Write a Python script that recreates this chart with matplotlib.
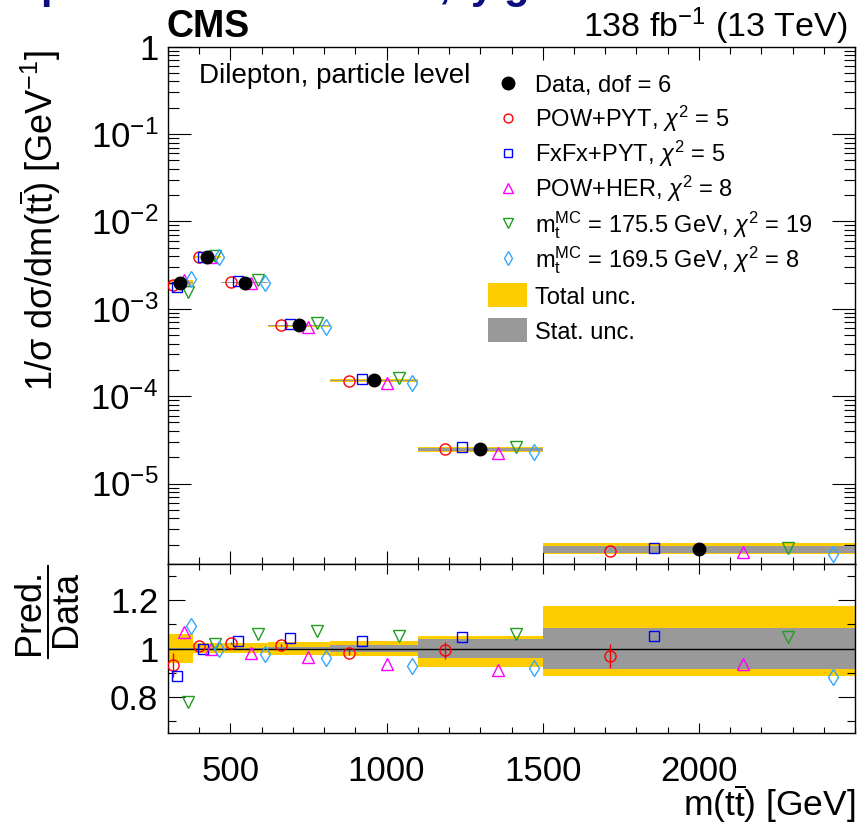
import math
import matplotlib
matplotlib.use("Agg")
import matplotlib.pyplot as plt
from matplotlib.lines import Line2D
from matplotlib.patches import Rectangle
from matplotlib.ticker import (LogLocator, FuncFormatter, MultipleLocator,
                               FixedLocator, NullFormatter)

plt.rcParams["font.family"] = ["Liberation Sans", "DejaVu Sans"]
plt.rcParams["mathtext.fontset"] = "custom"
plt.rcParams["mathtext.rm"] = "Liberation Sans"
plt.rcParams["mathtext.it"] = "Liberation Sans:italic"
plt.rcParams["mathtext.bf"] = "Liberation Sans:bold"
plt.rcParams["mathtext.sf"] = "Liberation Sans"

# ---- data ------------------------------------------------------------------
BIN_EDGES = [300, 380, 470, 620, 820, 1100, 1500, 2500]
DATA = [2.0e-3, 3.9e-3, 2.0e-3, 6.45e-4, 1.52e-4, 2.48e-5, 1.76e-6]
# relative uncertainties of the data
TOT_UP = [0.060, 0.021, 0.021, 0.025, 0.032, 0.052, 0.174]
TOT_DN = [0.062, 0.018, 0.018, 0.028, 0.032, 0.076, 0.113]
STAT_UP = [0.004, 0.003, 0.003, 0.005, 0.016, 0.039, 0.084]
STAT_DN = [0.004, 0.003, 0.003, 0.005, 0.016, 0.040, 0.083]
# prediction / data
R_POWPYT = [0.931, 1.011, 1.021, 1.014, 0.983, 0.992, 0.970]
R_POWPYT_ERR = [0.050, 0.004, 0.004, 0.006, 0.010, 0.035, 0.050]
R_FXFX = [0.887, 1.000, 1.029, 1.043, 1.030, 1.047, 1.051]
R_POWHER = [1.069, 1.000, 0.983, 0.965, 0.934, 0.912, 0.935]
R_MT1755 = [0.779, 1.018, 1.062, 1.072, 1.050, 1.061, 1.046]
R_MT1695 = [1.094, 1.000, 0.979, 0.959, 0.927, 0.920, 0.883]
X_TICKS = [500, 1000, 1500, 2000]

YELLOW = "#ffcc00"
GREY = "#999999"
MODELS = [
    # label, ratio, marker, colour, size, slot in bin
    (r"POW+PYT, $\chi^{2}$ = 5", R_POWPYT, "o", "#ff0000", 8.0, -2),
    (r"FxFx+PYT, $\chi^{2}$ = 5", R_FXFX, "s", "#0000ff", 7.5, -1),
    (r"POW+HER, $\chi^{2}$ = 8", R_POWHER, "^", "#ff00ff", 8.5, 1),
    (r"$\mathrm{m}_{\mathrm{t}}^{\mathrm{MC}}$ = 175.5 GeV, $\chi^{2}$ = 19",
     R_MT1755, "v", "#1f9e1f", 8.5, 2),
    (r"$\mathrm{m}_{\mathrm{t}}^{\mathrm{MC}}$ = 169.5 GeV, $\chi^{2}$ = 8",
     R_MT1695, "d", "#33a6ff", 8.5, 3),
]

W, H = 859, 825
fx = lambda px: px / W
fy = lambda py: 1 - py / H

fig = plt.figure(figsize=(W / 100, H / 100), dpi=100)
ax = fig.add_axes([fx(168), fy(564), (855 - 168) / W, (564 - 46.7) / H])
rx = fig.add_axes([fx(168), fy(733), (855 - 168) / W, (733 - 564) / H])

lo, hi = BIN_EDGES[:-1], BIN_EDGES[1:]
for i in range(len(DATA)):
    xs = [lo[i], hi[i]]
    d = DATA[i]
    ax.fill_between(xs, d * (1 - TOT_DN[i]), d * (1 + TOT_UP[i]), color=YELLOW, lw=0, zorder=1)
    ax.fill_between(xs, d * (1 - STAT_DN[i]), d * (1 + STAT_UP[i]), color=GREY, lw=0, zorder=2)
    rx.fill_between(xs, 1 - TOT_DN[i], 1 + TOT_UP[i], color=YELLOW, lw=0, zorder=1)
    rx.fill_between(xs, 1 - STAT_DN[i], 1 + STAT_UP[i], color=GREY, lw=0, zorder=2)
rx.axhline(1.0, color="black", lw=1.0, zorder=3)

for label, ratio, mk, col, ms, k in MODELS:
    xpos = [(a + b) / 2 + k * (b - a) / 7 for a, b in zip(lo, hi)]
    pred = [d * r for d, r in zip(DATA, ratio)]
    ax.plot(xpos, pred, ls="none", marker=mk, ms=ms, mfc="none", mec=col, mew=1.0, zorder=4)
    yerr = R_POWPYT_ERR if ratio is R_POWPYT else None
    rx.errorbar(xpos, ratio, yerr=yerr, ls="none", marker=mk, ms=ms, mfc="none",
                mec=col, mew=1.0, ecolor=col, elinewidth=1.0, capsize=0, zorder=4)

centers = [(a + b) / 2 for a, b in zip(lo, hi)]
ax.plot(centers, DATA, ls="none", marker="o", ms=9, color="black", zorder=5)

# ---- axes ------------------------------------------------------------------
ax.set_yscale("log")
ax.set_xlim(300, 2500)
ax.set_ylim(1.2e-6, 1)
rx.set_xlim(300, 2500)
rx.set_ylim(0.65, 1.35)


def logfmt(v, _):
    e = int(round(math.log10(v)))
    return "1" if e == 0 else r"$10^{%d}$" % e


ax.yaxis.set_major_locator(LogLocator(base=10, numticks=20))
ax.yaxis.set_minor_locator(LogLocator(base=10, subs=range(2, 10), numticks=20))
ax.yaxis.set_major_formatter(FuncFormatter(logfmt))
ax.yaxis.set_minor_formatter(NullFormatter())
for a in (ax, rx):
    a.xaxis.set_major_locator(FixedLocator(X_TICKS))
    a.xaxis.set_minor_locator(MultipleLocator(100))
    for s in a.spines.values():
        s.set_linewidth(1.0)
    a.tick_params(which="both", direction="in", top=True, right=True, width=0.8,
                  labelsize=25, pad=7)
ax.tick_params(axis="x", labelbottom=False)
ax.tick_params(axis="y", which="major", length=16.5)
ax.tick_params(axis="y", which="minor", length=8)
ax.tick_params(axis="x", which="major", length=9.5)
ax.tick_params(axis="x", which="minor", length=5)

rx.yaxis.set_major_locator(FixedLocator([0.8, 1.0, 1.2]))
rx.yaxis.set_minor_locator(FixedLocator([0.7, 0.9, 1.1, 1.3]))
rx.yaxis.set_major_formatter(FuncFormatter(lambda v, _: "1" if abs(v - 1) < 1e-9 else "%.1f" % v))
rx.tick_params(axis="y", which="major", length=12)
rx.tick_params(axis="y", which="minor", length=6)
rx.tick_params(axis="x", which="major", length=7.5, pad=16)
rx.tick_params(axis="x", which="minor", length=4)

# ---- labels ----------------------------------------------------------------
fig.text(fx(40), fy(50), r"1/σ dσ/dm(t$\overline{\mathrm{t}}$) [GeV$^{-1}$]", rotation=90,
         ha="center", va="top", fontsize=26)
fig.text(fx(48), fy(565), r"$\dfrac{\mathrm{Pred.}}{\mathrm{Data}}$", rotation=90,
         ha="center", va="top", fontsize=26)
fig.text(fx(855), fy(816), r"m(t$\overline{\mathrm{t}}$) [GeV]", ha="right", va="baseline",
         fontsize=25.5)
fig.text(fx(166), fy(37), "CMS", fontweight="bold", fontsize=27, ha="left", va="baseline")
fig.text(fx(848), fy(37), r"138 fb$^{-1}$ (13 TeV)", fontsize=24.5, ha="right", va="baseline")
fig.text(fx(199), fy(83), "Dilepton, particle level", fontsize=20, ha="left", va="baseline")

# clipped slide title above the figure
for px, s in [(40, "p"), (438, ","), (471, "y"), (503, "g")]:
    fig.text(fx(px), fy(-2), s, color="#0d0d80", fontsize=30, fontweight="bold",
             ha="left", va="baseline")

# ---- legend ----------------------------------------------------------------
rows = [83, 118, 153, 188, 223, 258]
fig.add_artist(Line2D([fx(508)], [fy(rows[0])], marker="o", ms=9, color="black",
                      ls="none", transform=fig.transFigure))
fig.text(fx(535), fy(rows[0] + 9), "Data, dof = 6", fontsize=17, va="baseline")
for (label, ratio, mk, col, ms, k), yy in zip(MODELS, rows[1:]):
    fig.add_artist(Line2D([fx(508)], [fy(yy)], marker=mk, ms=ms * 0.8, mfc="none",
                          mec=col, mew=1.0, ls="none", transform=fig.transFigure))
    fig.text(fx(535), fy(yy + 9), label, fontsize=17, va="baseline")
for yy, col, label in [(295, YELLOW, "Total unc."), (330, GREY, "Stat. unc.")]:
    fig.add_artist(Rectangle((fx(488), fy(yy + 12)), 39 / W, 24 / H, color=col,
                             lw=0, transform=fig.transFigure))
    fig.text(fx(535), fy(yy + 9), label, fontsize=17, va="baseline")

fig.savefig("out.png", dpi=100, facecolor="white")
